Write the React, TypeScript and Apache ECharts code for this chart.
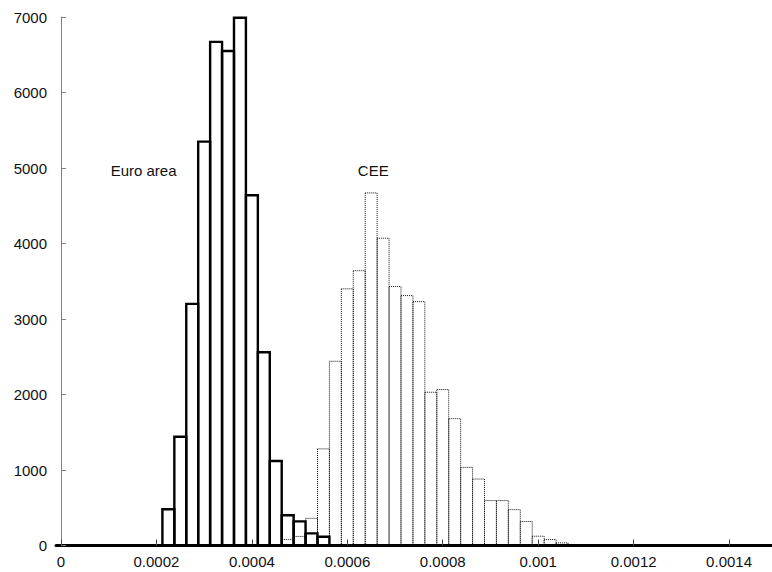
import React, { useEffect, useRef } from "react";
import * as echarts from "echarts";

// Histogram bin edges (shared grid for both distributions)
const binEdges = [
  0.0002125, 0.0002375, 0.0002625, 0.0002875, 0.0003125, 0.0003375, 0.0003625,
  0.0003875, 0.0004125, 0.0004375, 0.0004625, 0.0004875, 0.0005125, 0.0005375,
  0.0005625, 0.0005875, 0.0006125, 0.0006375, 0.0006625, 0.0006875, 0.0007125,
  0.0007375, 0.0007625, 0.0007875, 0.0008125, 0.0008375, 0.0008625, 0.0008875,
  0.0009125, 0.0009375, 0.0009625, 0.0009875, 0.0010125, 0.0010375, 0.0010625,
];

// Euro area counts, starting at bin 0
const euroStartBin = 0;
const euroCounts = [480, 1440, 3200, 5350, 6670, 6550, 6990, 4640, 2560, 1120, 400, 320, 160, 115];

// CEE counts, starting at bin 10
const ceeStartBin = 10;
const ceeCounts = [
  80, 120, 360, 1280, 2440, 3400, 3640, 4670, 4070, 3430, 3310, 3230, 2030, 2065,
  1680, 1035, 880, 595, 595, 475, 318, 123, 79, 35,
];

const xTickValues = [0, 0.0002, 0.0004, 0.0006, 0.0008, 0.001, 0.0012, 0.0014];

const annotationTexts = ["Euro area", "CEE"];
const annotationX = [0.000104, 0.000622];
const annotationY = [4970, 4970];

const FONT = "'Liberation Sans', Arial, Helvetica, sans-serif";

function toBins(start: number, counts: number[]) {
  return counts.map((c, i) => [binEdges[start + i], binEdges[start + i + 1], c]);
}

export default function App() {
  const ref = useRef<HTMLDivElement>(null);

  useEffect(() => {
    if (!ref.current) return;
    const chart = echarts.init(ref.current, undefined, { renderer: "svg" });

    const makeRender = (style: any) => (params: any, api: any) => {
      const x0 = api.value(0);
      const x1 = api.value(1);
      const v = api.value(2);
      const p0 = api.coord([x0, v]);
      const p1 = api.coord([x1, 0]);
      return {
        type: "rect",
        shape: { x: p0[0], y: p0[1], width: p1[0] - p0[0], height: p1[1] - p0[1] },
        style,
      };
    };

    chart.setOption({
      animation: false,
      backgroundColor: "#ffffff",
      grid: { left: 56, right: 0, top: 17, bottom: 26.5, containLabel: false },
      xAxis: {
        type: "value",
        min: -0.0000105,
        max: 0.00149,
        splitLine: { show: false },
        axisLine: { show: true, lineStyle: { color: "#000", width: 3 } },
        axisTick: {
          show: true,
          inside: true,
          length: 6,
          customValues: xTickValues,
          lineStyle: { color: "#444", width: 1 },
        },
        axisLabel: {
          customValues: xTickValues,
          formatter: (v: number) => String(v),
          color: "#111",
          fontSize: 15,
          fontFamily: FONT,
          margin: 8,
        },
      },
      yAxis: {
        type: "value",
        min: 0,
        max: 7000,
        interval: 1000,
        splitLine: { show: false },
        axisLine: { show: true, lineStyle: { color: "#808080", width: 1 } },
        axisTick: { show: true, inside: true, length: 5, lineStyle: { color: "#808080" } },
        axisLabel: {
          formatter: (v: number) => String(v),
          color: "#111",
          fontSize: 15,
          fontFamily: FONT,
          margin: 9,
        },
      },
      series: [
        {
          type: "custom",
          name: "CEE",
          renderItem: makeRender({ fill: "none", stroke: "#111", lineWidth: 1, lineDash: [1, 1] }),
          data: toBins(ceeStartBin, ceeCounts),
          z: 2,
        },
        {
          type: "custom",
          name: "Euro area",
          renderItem: makeRender({ fill: "none", stroke: "#000", lineWidth: 2.4 }),
          data: toBins(euroStartBin, euroCounts),
          z: 3,
        },
      ],
    });

    const graphics = annotationTexts.map((t, i) => {
      const p = chart.convertToPixel({ gridIndex: 0 }, [annotationX[i], annotationY[i]]) as number[];
      return {
        type: "text",
        x: p[0],
        y: p[1],
        style: {
          text: t,
          fill: "#111",
          font: `15px ${FONT}`,
          textAlign: "left",
          textVerticalAlign: "middle",
        },
      };
    });
    chart.setOption({ graphic: graphics });

    return () => chart.dispose();
  }, []);

  return (
    <div
      ref={ref}
      style={{ position: "fixed", left: 0, top: 0, width: 772, height: 572 }}
    />
  );
}
